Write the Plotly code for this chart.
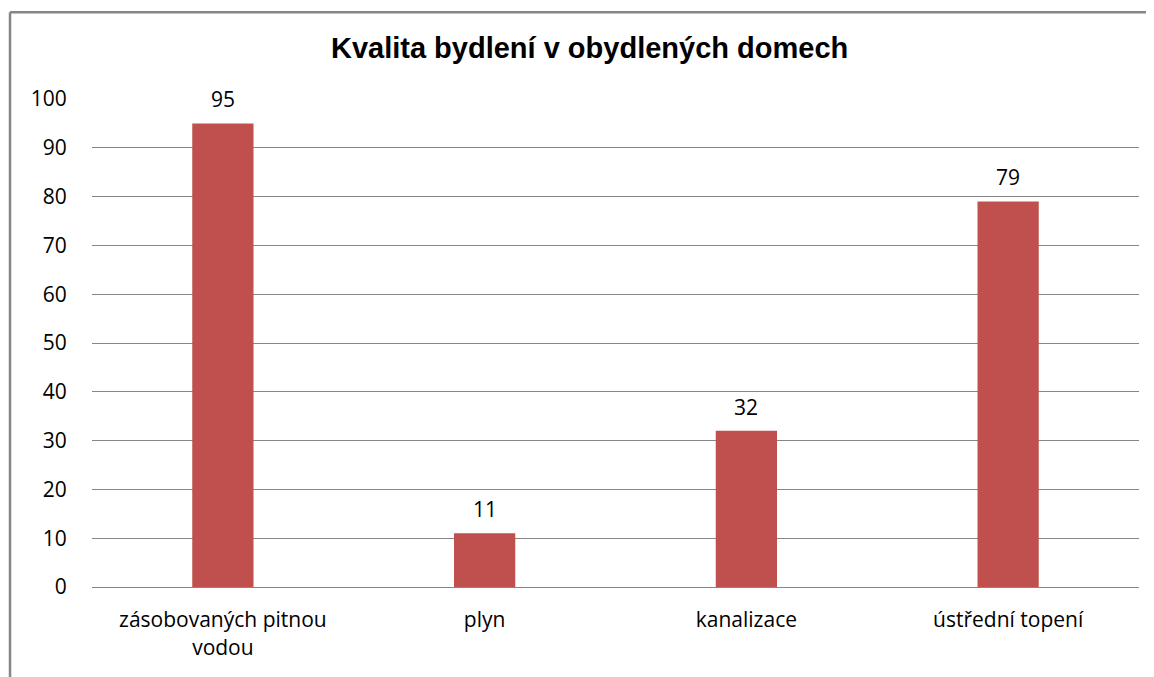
import plotly.graph_objects as go

# data
kategorie = ["zásobovaných pitnou<br>vodou", "plyn", "kanalizace", "ústřední topení"]
hodnoty = [95, 11, 32, 79]
y_ticks = [0, 10, 20, 30, 40, 50, 60, 70, 80, 90, 100]

barva = "#C0504D"
seda = "#868686"
pismo = "Open Sans"

fig = go.Figure()
fig.add_trace(go.Bar(
    x=kategorie,
    y=hodnoty,
    marker=dict(color=barva, line=dict(width=0)),
    width=0.234,
    hoverinfo="x+y",
))

# popisky nad sloupci
for k, v in zip(kategorie, hodnoty):
    fig.add_annotation(x=k, y=v, text=str(v), showarrow=False,
                       yshift=24, font=dict(family=pismo, size=21, color="#000000"))

# ramecek kolem grafu - jen levy a horni okraj, zbytek je mimo obrazek
ramecek = dict(color=seda, width=2.5)
fig.add_shape(type="line", xref="paper", yref="paper",
              x0=-0.0783, x1=-0.0783, y0=-0.25, y1=1.178, line=ramecek)
fig.add_shape(type="line", xref="paper", yref="paper",
              x0=-0.0783, x1=1.2, y0=1.178, y1=1.178, line=ramecek)

# stranka ma okraj 8 px, proto jsou okraje posunute
fig.update_layout(
    width=1154, height=677,
    margin=dict(l=84, r=23, t=91, b=98),
    paper_bgcolor="white", plot_bgcolor="white",
    showlegend=False,
    title=dict(text="<b>Kvalita bydlení v obydlených domech</b>",
               x=0.504, xanchor="center", y=0.941, yanchor="middle",
               font=dict(family="Liberation Sans", size=29, color="#000000")),
    xaxis=dict(showgrid=False, showline=False, zeroline=False,
               ticks="outside", ticklen=14, tickcolor="rgba(0,0,0,0)",
               tickfont=dict(family=pismo, size=21, color="#000000")),
    yaxis=dict(range=[0, 100], tickvals=y_ticks, showgrid=True,
               gridcolor=seda, gridwidth=1.2, zeroline=True, zerolinecolor=seda,
               zerolinewidth=1.2, showline=False,
               ticks="outside", ticklen=20, tickcolor="rgba(0,0,0,0)",
               tickfont=dict(family=pismo, size=21, color="#000000")),
)

fig.write_html("out.html")
